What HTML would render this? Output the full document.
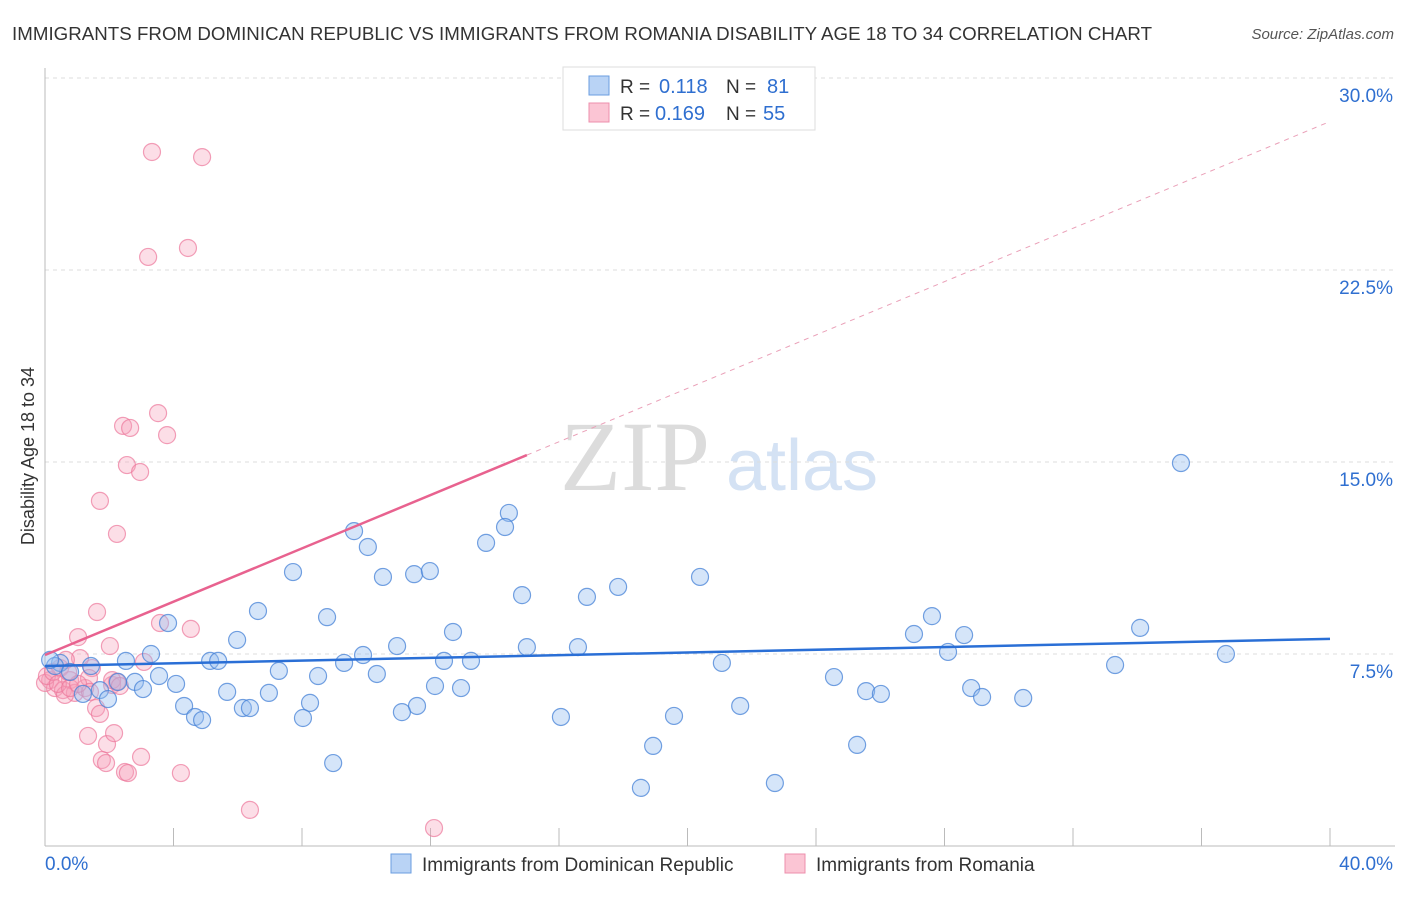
<!DOCTYPE html>
<html><head><meta charset="utf-8"><style>
body{margin:0;background:#fff;font-family:"Liberation Sans",sans-serif}
</style></head><body>
<svg id="c" width="1406" height="892" font-family="Liberation Sans, sans-serif">
<text x="12" y="40" font-size="18.7" fill="#333" textLength="1140">IMMIGRANTS FROM DOMINICAN REPUBLIC VS IMMIGRANTS FROM ROMANIA DISABILITY AGE 18 TO 34 CORRELATION CHART</text>
<text x="1394" y="39" font-size="15" fill="#555" text-anchor="end" font-style="italic">Source: ZipAtlas.com</text>
<text x="635" y="490" font-size="100" fill="#dcdcdc" text-anchor="middle" style="font-family:'Liberation Serif',serif">ZIP</text>
<text x="802" y="490" font-size="72" fill="#d4e2f4" text-anchor="middle">atlas</text>
<text transform="translate(34,456) rotate(-90)" font-size="18" fill="#333" text-anchor="middle">Disability Age 18 to 34</text>
<g id="grid"></g><g id="marks"></g>
<g>
<rect x="563" y="67" width="252" height="63" fill="#fff" stroke="#ddd"/>
<rect x="589" y="76" width="20" height="19" fill="#b9d3f5" stroke="#6a9ee0"/>
<rect x="589" y="103" width="20" height="19" fill="#fbc5d4" stroke="#ee8fac"/>
<text x="620" y="93" font-size="19" fill="#333">R =</text>
<text x="659" y="93" font-size="20" fill="#2f6fd0">0.118</text>
<text x="726" y="93" font-size="19" fill="#333">N =</text>
<text x="767" y="93" font-size="20" fill="#2f6fd0">81</text>
<text x="620" y="120" font-size="19" fill="#333">R =</text>
<text x="655" y="120" font-size="20" fill="#2f6fd0">0.169</text>
<text x="726" y="120" font-size="19" fill="#333">N =</text>
<text x="763" y="120" font-size="20" fill="#2f6fd0">55</text>
</g>
<g>
<rect x="391" y="854" width="20" height="19" fill="#b9d3f5" stroke="#6a9ee0"/>
<text x="422" y="871" font-size="19" fill="#333">Immigrants from Dominican Republic</text>
<rect x="785" y="854" width="20" height="19" fill="#fbc5d4" stroke="#ee8fac"/>
<text x="816" y="871" font-size="19" fill="#333">Immigrants from Romania</text>
</g>
</svg>
<script>
const yTicks=[7.5,15,22.5,30];
const yTickLabels=["7.5%","15.0%","22.5%","30.0%"];
const xTicks=[0,4,8,12,16,20,24,28,32,36,40];
const blueX=[35.36,14.44,14.32,9.62,10.05,13.73,7.72,10.52,11.49,11.98,20.39,17.84,16.87,14.85,6.63,8.78,27.61,34.09,3.83,5.98,12.70,27.05,28.61,10.96,15.00,16.59,3.30,28.11,36.76,9.90,2.52,5.14,5.39,9.31,12.42,13.26,21.07,33.31,7.28,1.43,0.47,0.31,3.55,8.50,10.33,2.80,2.27,4.08,24.56,1.71,3.05,12.14,12.95,28.83,5.67,6.97,25.56,26.02,29.17,30.45,1.96,8.25,4.33,6.16,6.38,11.58,11.11,21.64,4.67,4.89,8.03,16.06,19.58,18.93,25.28,8.97,18.55,22.72,1.18,0.78,0.16];
const blueY=[14.96,13.01,12.46,12.30,11.68,11.84,10.70,10.51,10.62,10.74,10.51,10.12,9.73,9.80,9.18,8.94,8.98,8.52,8.71,8.05,8.36,8.28,8.24,7.81,7.77,7.77,7.50,7.58,7.50,7.46,7.23,7.23,7.23,7.15,7.23,7.23,7.15,7.07,6.84,7.03,7.15,7.03,6.64,6.64,6.72,6.41,6.41,6.33,6.60,6.09,6.13,6.25,6.17,6.17,6.02,5.98,6.05,5.94,5.82,5.78,5.74,5.59,5.47,5.39,5.39,5.47,5.23,5.47,5.04,4.92,5.00,5.04,5.08,3.91,3.95,3.24,2.27,2.46,5.94,6.80,7.27];
const pinkX=[3.33,4.89,3.21,4.45,3.52,2.43,2.65,3.80,2.55,2.96,1.71,2.24,1.62,3.58,4.54,1.03,2.02,3.08,1.46,1.09,0.47,0.16,0.31,0.56,0.78,0.93,1.25,1.37,0.62,1.40,1.59,1.71,2.09,2.24,1.34,1.93,2.15,1.77,1.90,2.99,2.49,2.58,4.23,6.38,12.11,0.00,0.06,0.25,0.40,0.78,1.03,2.09,0.72,2.33,0.65];
const pinkY=[27.11,26.91,23.01,23.36,16.91,16.41,16.33,16.05,14.88,14.61,13.48,12.19,9.14,8.71,8.48,8.16,7.81,7.19,6.95,7.34,6.95,6.48,6.17,6.09,6.48,5.98,6.17,6.56,5.90,6.02,5.39,5.16,6.29,6.41,4.30,3.98,4.41,3.36,3.24,3.48,2.89,2.85,2.85,1.41,0.70,6.37,6.64,6.80,6.33,6.17,6.33,6.48,6.80,6.25,7.27];
const blueTrend=[[0,7.03],[40,8.09]];
const pinkTrend=[[0,7.46],[15,15.27]];
const pinkTrendExt=[[15,15.27],[40,28.3]];
const NS="http://www.w3.org/2000/svg";
const X=v=>45+v/40*1285, Y=v=>846-v/7.5*192;
function mk(t,a,p){const e=document.createElementNS(NS,t);for(const k in a)e.setAttribute(k,a[k]);p.appendChild(e);return e;}
const g=document.getElementById('grid'), m=document.getElementById('marks');
yTicks.forEach((t,i)=>{
 const l=mk('line',{x1:45,x2:1395,y1:Y(t),y2:Y(t),stroke:'#ddd','stroke-dasharray':'4,4'},g);
 
 
 const tx=mk('text',{x:1393,y:Y(t)+24,'font-size':19,fill:'#2f6fd0','text-anchor':'end'},g);
 tx.textContent=yTickLabels[i];
 
 
});
const ax=mk('line',{x1:45,x2:45,y1:68,y2:846,stroke:'#bbb'},g);


const bx=mk('line',{x1:45,x2:1395,y1:846,y2:846,stroke:'#bbb'},g);


xTicks.forEach(t=>{
 const l=mk('line',{x1:X(t),x2:X(t),y1:828,y2:846,stroke:'#bbb'},g);
 
 
});
[[0,"0.0%",'start',45],[40,"40.0%",'end',1393]].forEach(d=>{
 const tx=mk('text',{x:d[3],y:870,'font-size':19,fill:'#2f6fd0','text-anchor':d[2]},g);
 tx.textContent=d[1];
 
 
});
pinkX.forEach((v,i)=>{
 const c=mk('circle',{cx:X(v),cy:Y(pinkY[i]),r:8.5,fill:'rgba(246,160,185,0.35)',stroke:'rgba(236,120,155,0.7)','stroke-width':1.2},m);
 
 
});
blueX.forEach((v,i)=>{
 const c=mk('circle',{cx:X(v),cy:Y(blueY[i]),r:8.5,fill:'rgba(150,190,240,0.4)',stroke:'rgba(70,130,215,0.75)','stroke-width':1.2},m);
 
 
});
const t1=mk('line',{x1:X(blueTrend[0][0]),y1:Y(blueTrend[0][1]),x2:X(blueTrend[1][0]),y2:Y(blueTrend[1][1]),stroke:'#2a6fd6','stroke-width':2.5},m);


const t2=mk('line',{x1:X(pinkTrend[0][0]),y1:Y(pinkTrend[0][1]),x2:X(pinkTrend[1][0]),y2:Y(pinkTrend[1][1]),stroke:'#e8628f','stroke-width':2.5},m);


const t3=mk('line',{x1:X(pinkTrendExt[0][0]),y1:Y(pinkTrendExt[0][1]),x2:X(pinkTrendExt[1][0]),y2:Y(pinkTrendExt[1][1]),stroke:'#eaa0b8','stroke-width':1,'stroke-dasharray':'5,5'},m);


</script>
</body></html>
